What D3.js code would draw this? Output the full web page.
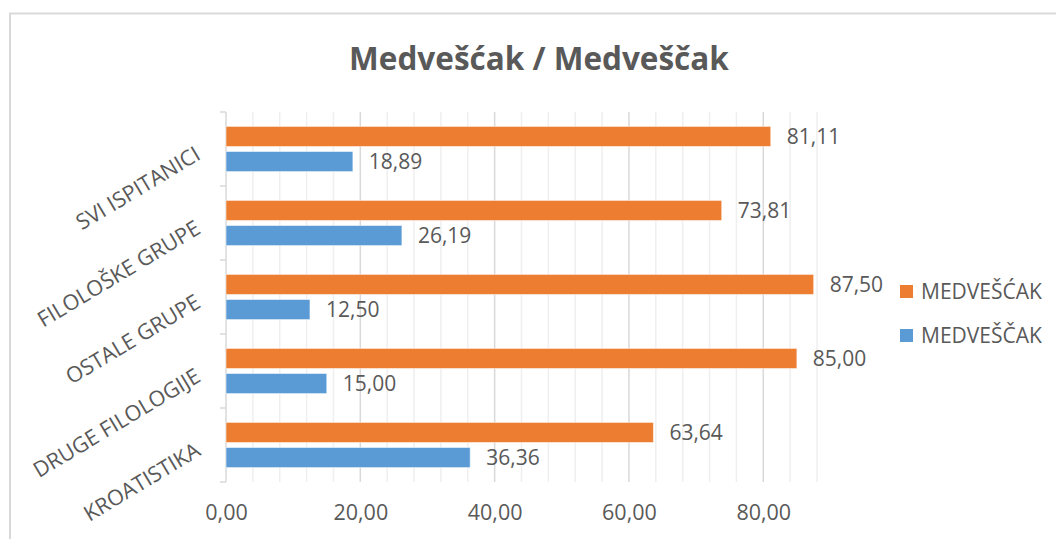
<!DOCTYPE html>
<html>
<head>
<meta charset="utf-8">
<script src="https://cdn.jsdelivr.net/npm/d3@7"></script>
<style>
  body { margin: 0; background: #fff; }
  svg { display: block; font-family: "Open Sans", sans-serif; }
</style>
</head>
<body>
<svg id="chart"></svg>
<script>
const categories = ["SVI ISPITANICI", "FILOLOŠKE GRUPE", "OSTALE GRUPE", "DRUGE FILOLOGIJE", "KROATISTIKA"];
const seriesNames = ["MEDVEŠĆAK", "MEDVEŠČAK"];
const orangeValues = [81.11, 73.81, 87.50, 85.00, 63.64];
const blueValues = [18.89, 26.19, 12.50, 15.00, 36.36];
const xTicks = [0, 20, 40, 60, 80];

const width = 1056;
const height = 539;
const colors = ["#ED7D31", "#5B9BD5"];
const textColor = "#595959";

const svg = d3.select("#chart")
    .attr("width", width)
    .attr("height", height);

// chart frame
svg.append("rect")
    .attr("x", 10).attr("y", 13.5)
    .attr("width", 1100).attr("height", 600)
    .attr("fill", "#fff")
    .attr("stroke", "#d9d9d9")
    .attr("stroke-width", 2);

svg.append("text")
    .attr("x", 539)
    .attr("y", 70)
    .attr("text-anchor", "middle")
    .attr("font-size", "31.5px")
    .attr("font-weight", "bold")
    .attr("fill", textColor)
    .text("Medvešćak / Medveščak");

const x = d3.scaleLinear().domain([0, 88]).range([226, 817]);

const y0 = d3.scaleBand()
    .domain(categories)
    .range([112, 482])
    .paddingInner(0.39)
    .paddingOuter(0.195);

const y1 = d3.scaleBand()
    .domain(seriesNames)
    .range([0, y0.bandwidth()])
    .paddingInner(0.2);

const fmt = v => d3.format(".2f")(v).replace(".", ",");

// gridlines, every 4 with darker ones on labelled ticks
const grid = svg.append("g");
grid.selectAll("line")
    .data(d3.range(4, 89, 4))
    .enter()
    .append("line")
    .attr("x1", d => x(d)).attr("x2", d => x(d))
    .attr("y1", y0.range()[0]).attr("y2", y0.range()[1])
    .attr("stroke", d => d % 20 === 0 ? "#d9d9d9" : "#efefef")
    .attr("stroke-width", 1.5);

// vertical axis with ticks at category boundaries
svg.append("line")
    .attr("x1", x(0)).attr("x2", x(0))
    .attr("y1", y0.range()[0]).attr("y2", y0.range()[1])
    .attr("stroke", "#d9d9d9")
    .attr("stroke-width", 1.5);

svg.append("g").selectAll("line")
    .data(d3.range(categories.length + 1))
    .enter()
    .append("line")
    .attr("x1", x(0) - 6).attr("x2", x(0))
    .attr("y1", i => y0.range()[0] + i * y0.step())
    .attr("y2", i => y0.range()[0] + i * y0.step())
    .attr("stroke", "#d9d9d9")
    .attr("stroke-width", 1.5);

const rows = categories.map((c, i) => ({
    category: c,
    values: [orangeValues[i], blueValues[i]]
}));

const group = svg.append("g").selectAll("g")
    .data(rows)
    .enter()
    .append("g")
    .attr("transform", d => `translate(0,${y0(d.category)})`);

const bar = group.selectAll("g")
    .data(d => d.values.map((v, j) => ({ name: seriesNames[j], value: v, j })))
    .enter()
    .append("g");

bar.append("rect")
    .attr("x", x(0))
    .attr("y", d => y1(d.name))
    .attr("width", d => x(d.value) - x(0))
    .attr("height", y1.bandwidth())
    .attr("fill", d => colors[d.j])
    .attr("stroke", "#fff")
    .attr("stroke-opacity", 0.5)
    .attr("stroke-width", 1);

bar.append("text")
    .attr("x", d => x(d.value) + 16)
    .attr("y", d => y1(d.name) + y1.bandwidth() / 2)
    .attr("dy", "0.35em")
    .attr("font-size", "21px")
    .attr("fill", textColor)
    .text(d => fmt(d.value));

// category labels, rotated
svg.append("g").selectAll("text")
    .data(categories)
    .enter()
    .append("text")
    .attr("text-anchor", "end")
    .attr("dy", "0.35em")
    .attr("transform", d => `translate(198,${y0(d) + y0.bandwidth() / 2 + 3}) rotate(-31)`)
    .attr("font-size", "21.5px")
    .attr("fill", textColor)
    .text(d => d);

// x axis labels
const xAxis = svg.append("g")
    .attr("transform", `translate(0,${y0.range()[1]})`)
    .call(d3.axisBottom(x).tickValues(xTicks).tickSize(0).tickPadding(23).tickFormat(fmt));
xAxis.select(".domain").remove();
xAxis.selectAll("text")
    .attr("font-size", "21.5px")
    .attr("font-family", "Open Sans, sans-serif")
    .attr("fill", textColor);

// legend
const legend = svg.append("g").selectAll("g")
    .data(seriesNames)
    .enter()
    .append("g")
    .attr("transform", (d, i) => `translate(900,${285 + i * 44})`);

legend.append("rect")
    .attr("width", 13).attr("height", 13)
    .attr("fill", (d, i) => colors[i]);

legend.append("text")
    .attr("x", 21)
    .attr("y", 6.5)
    .attr("dy", "0.35em")
    .attr("font-size", "21px")
    .attr("fill", textColor)
    .text(d => d);
</script>
</body>
</html>
